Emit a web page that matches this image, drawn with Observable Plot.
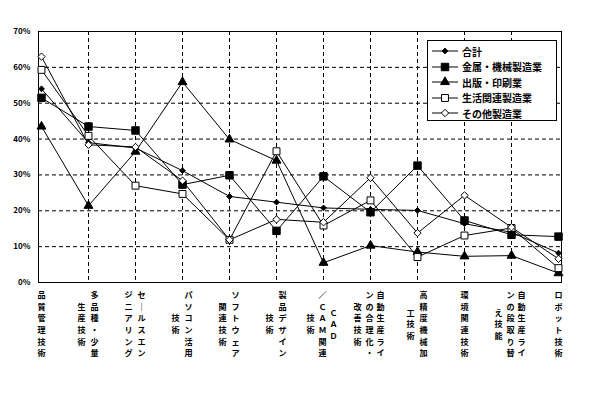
<!DOCTYPE html>
<html><head><meta charset="utf-8">
<script src="https://cdn.jsdelivr.net/npm/d3@7"></script>
<script src="https://cdn.jsdelivr.net/npm/@observablehq/plot@0.6"></script>
<style>
body{margin:0;background:#fff}
#wrap{position:relative;width:609px;height:397px;overflow:hidden}
#legend{position:absolute;left:427px;top:40px;width:130px;height:81px;border:1px solid #000;background:#fff;box-sizing:border-box;font-family:"Noto Sans CJK JP",sans-serif;font-size:10px;font-weight:bold}
#legend .row{position:absolute;left:0;height:14px;display:flex;align-items:center}
#legend svg{display:block;margin-left:4px}
#legend span{margin-left:3px;white-space:nowrap}
</style>
</head><body><div id="wrap"></div>
<script>
// category labels, split into vertical columns (read right to left)
const labelColumns = [
  ["品質管理技術"],
  ["多品種・少量", "生産技術"],
  ["セールスエン", "ジニアリング"],
  ["パソコン活用", "技術"],
  ["ソフトウェア", "関連技術"],
  ["製品デザイン", "技術"],
  ["ＣＡＤ", "／ＣＡＭ関連", "技術"],
  ["自動生産ライ", "ンの合理化・", "改善技術"],
  ["高精度機械加", "工技術"],
  ["環境関連技術"],
  ["自動生産ライ", "ンの段取り替", "え技能"],
  ["ロボット技術"]
];
const categories = labelColumns.map(c => c.join(""));

const seriesNames = ["合計", "金属・機械製造業", "出版・印刷業", "生活関連製造業", "その他製造業"];
const total  = [54.0, 39.0, 37.5, 31.2, 24.0, 22.4, 20.8, 20.4, 20.1, 16.4, 14.0, 8.2];
const metal  = [51.5, 43.5, 42.4, 27.3, 29.9, 14.4, 29.6, 19.6, 32.6, 17.3, 13.3, 12.8];
const print  = [43.5, 21.4, 36.5, 55.9, 39.9, 34.0, 5.5, 10.3, 8.5, 7.3, 7.5, 2.6];
const living = [59.3, 40.9, 27.0, 24.7, 11.9, 36.6, 15.9, 22.9, 7.1, 13.1, 15.2, 4.0];
const other  = [63.0, 38.4, 37.8, 28.4, 11.9, 17.6, 16.8, 29.2, 13.8, 24.3, 15.4, 6.6];
const yTicks = [0, 10, 20, 30, 40, 50, 60, 70];

const seriesValues = [total, metal, print, living, other];
const styles = [
  {symbol: "diamond2", fill: "black", r: 2.6},
  {symbol: "square", fill: "black", r: 4.2},
  {symbol: "triangle", fill: "black", r: 3.3},
  {symbol: "square", fill: "white", r: 3.9},
  {symbol: "diamond2", fill: "white", r: 3.3}
];

const data = [];
seriesNames.forEach((s, i) => categories.forEach((c, j) => data.push({series: s, cat: c, value: seriesValues[i][j]})));

// label columns: one character per line
const colData = [];
labelColumns.forEach((cols, i) => {
  const n = cols.length;
  cols.forEach((txt, j) => {
    const off = n === 1 ? 0 : n === 2 ? (j === 0 ? 6 : -7) : (j === 0 ? 10 : j === 1 ? -1 : -13);
    colData.push({cat: categories[i], text: Array.from(txt).map(ch => ch === "ー" ? "｜" : ch).join("\n"), off});
  });
});
const offsets = Array.from(new Set(colData.map(d => d.off)));

const font = '"Noto Sans CJK JP", sans-serif';
const marks = [
  Plot.gridY(yTicks.slice(1, -1), {stroke: "black", strokeOpacity: 1, strokeDasharray: "4,3", strokeWidth: 1}),
  Plot.gridX(categories.slice(1, -1), {stroke: "black", strokeOpacity: 1, strokeDasharray: "4,3", strokeWidth: 1}),
  Plot.frame({stroke: "black", strokeWidth: 1}),
  Plot.axisY(yTicks, {tickSize: 0, tickPadding: 8, label: null, tickFormat: d => d + "%", fontSize: 8, fontWeight: "bold", fontFamily: font}),
  Plot.line(data, {x: "cat", y: "value", z: "series", stroke: "black", strokeWidth: 1}),
  ...seriesNames.map((s, i) => Plot.dot(data.filter(d => d.series === s), {x: "cat", y: "value", symbol: styles[i].symbol, fill: styles[i].fill, stroke: "black", strokeWidth: 1, r: styles[i].r})),
  ...offsets.map(o => Plot.text(colData.filter(d => d.off === o), {x: "cat", text: "text", frameAnchor: "bottom", dy: 41, dx: o, lineAnchor: "middle", lineHeight: 1.44, fontSize: 8.1, fontWeight: "bold", fontFamily: font, fill: "black"}))
];

const chart = Plot.plot({
  width: 609, height: 397,
  marginLeft: 38, marginRight: 48, marginTop: 31, marginBottom: 115,
  x: {type: "point", domain: categories, padding: 0, axis: null},
  y: {domain: [0, 70], axis: null},
  style: {background: "white", fontFamily: font},
  marks
});
const wrap = document.getElementById("wrap");
wrap.appendChild(chart);

// legend
const legend = document.createElement("div");
legend.id = "legend";
const rowTops = [3, 18.5, 34, 49.5, 65];
seriesNames.forEach((s, i) => {
  const row = document.createElement("div");
  row.className = "row";
  row.style.top = rowTops[i] + "px";
  const st = styles[i];
  const size = Math.PI * st.r * st.r;
  const sym = st.symbol === "square" ? d3.symbolSquare : st.symbol === "triangle" ? d3.symbolTriangle : d3.symbolDiamond2;
  const path = d3.symbol(sym, size)();
  row.innerHTML = `<svg width="27" height="12"><line x1="0" x2="26" y1="6" y2="6" stroke="black"/><path d="${path}" transform="translate(13,6)" fill="${st.fill}" stroke="black"/></svg><span>${s}</span>`;
  legend.appendChild(row);
});
wrap.appendChild(legend);
</script>
</body></html>
